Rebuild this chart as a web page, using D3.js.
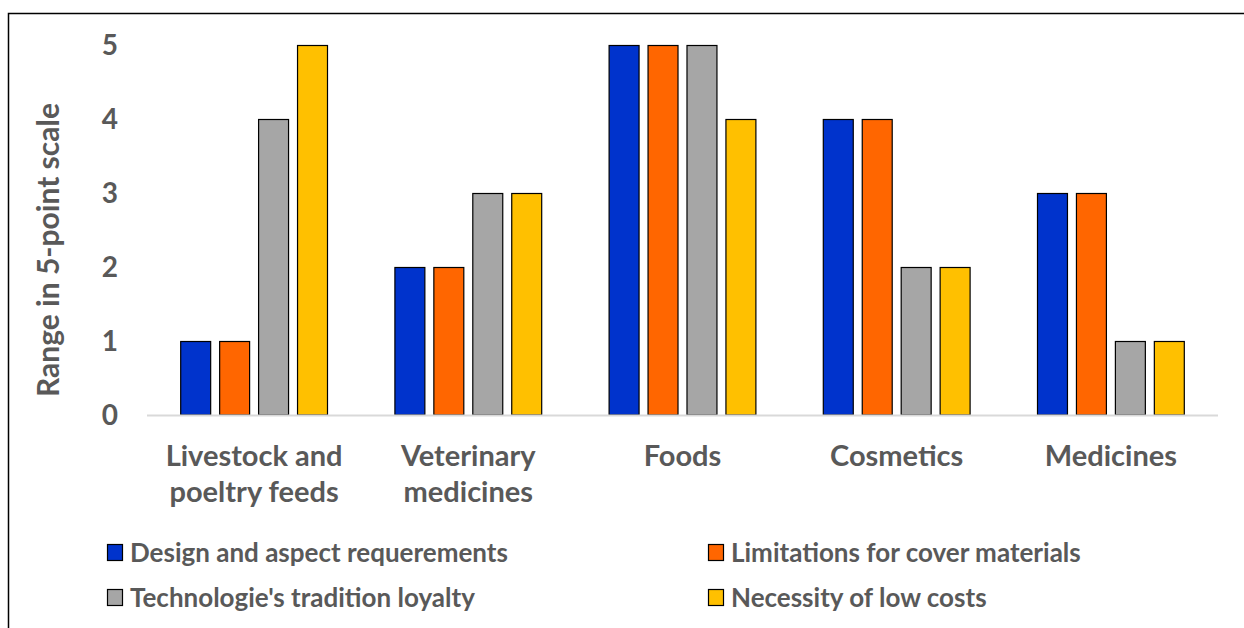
<!DOCTYPE html>
<html><head><meta charset="utf-8">
<script src="https://cdn.jsdelivr.net/npm/d3@7"></script>
<style>body{margin:0;background:#fff;} svg{display:block;font-family:Lato,"Open Sans",sans-serif;font-weight:bold;}</style>
</head><body>
<svg id="chart" width="1244" height="628"></svg>
<script>
const categories = [["Livestock and","poeltry feeds"],["Veterinary","medicines"],["Foods"],["Cosmetics"],["Medicines"]];
const seriesNames = ["Design and aspect requerements","Limitations for cover materials","Technologie's tradition loyalty","Necessity of low costs"];
const design = [1,2,5,4,3];
const limitations = [1,2,5,4,3];
const tradition = [4,3,5,2,1];
const lowCosts = [5,3,4,2,1];
const colors = ["#0033CC","#FF6600","#A6A6A6","#FFC000"];
const yTicks = [0,1,2,3,4,5];
const seriesValues = [design, limitations, tradition, lowCosts];

const svg = d3.select("#chart");
const txt = "#595959";
svg.append("rect").attr("x",8.5).attr("y",13.5).attr("width",1400).attr("height",800)
  .attr("fill","none").attr("stroke","#000").attr("stroke-width",1.5);

const pL=147, pR=1218, pT=45, pB=415;
const x0 = d3.scaleBand().domain(d3.range(categories.length)).range([pL,pR]).paddingInner(0.31).paddingOuter(0.155);
const x1 = d3.scaleBand().domain(d3.range(seriesNames.length)).range([0,x0.bandwidth()]).paddingInner(0.205);
const y = d3.scaleLinear().domain([0,5]).range([pB,pT]);

// bars
const g = svg.append("g");
categories.forEach((c,i)=>{
  seriesValues.forEach((vals,s)=>{
    g.append("rect")
      .attr("x", x0(i)+x1(s)+0.5)
      .attr("y", y(vals[i])+0.5)
      .attr("width", x1.bandwidth()-1)
      .attr("height", y(0)-y(vals[i])-0.5)
      .attr("fill", colors[s]).attr("stroke","#000").attr("stroke-width",1.2);
  });
});

// baseline
svg.append("line").attr("x1",pL).attr("x2",pR).attr("y1",y(0)+0.5).attr("y2",y(0)+0.5)
  .attr("stroke","#d9d9d9").attr("stroke-width",2);

// y axis
const yAxis = d3.axisLeft(y).tickValues(yTicks).tickSize(0).tickPadding(0).tickFormat(d3.format("d"));
const ya = svg.append("g").attr("transform",`translate(118,0)`).call(yAxis);
ya.select(".domain").remove();
ya.selectAll("text").attr("fill",txt).attr("font-size",28).attr("font-family","Lato").attr("font-weight","bold").attr("dy","0.35em");

// x labels
categories.forEach((lines,i)=>{
  const cx = x0(i)+x0.bandwidth()/2;
  const t = svg.append("text").attr("text-anchor","middle").attr("fill",txt).attr("font-size",29);
  lines.forEach((l,k)=>t.append("tspan").attr("x",cx).attr("y",466+k*36).text(l));
});

// y title
svg.append("text").attr("transform","translate(59,250) rotate(-90)").attr("text-anchor","middle")
  .attr("fill",txt).attr("font-size",30).text("Range in 5-point scale");

// legend
const legPos = [[107,544],[708,544],[107,589],[708,589]];
seriesNames.forEach((n,s)=>{
  const [lx,ly] = legPos[s];
  svg.append("rect").attr("x",lx+0.5).attr("y",ly+0.5).attr("width",15).attr("height",16)
    .attr("fill",colors[s]).attr("stroke","#000").attr("stroke-width",1.2);
  svg.append("text").attr("x",lx+23).attr("y",ly+18).attr("fill",txt).attr("font-size",26).text(n);
});
</script>
</body></html>
